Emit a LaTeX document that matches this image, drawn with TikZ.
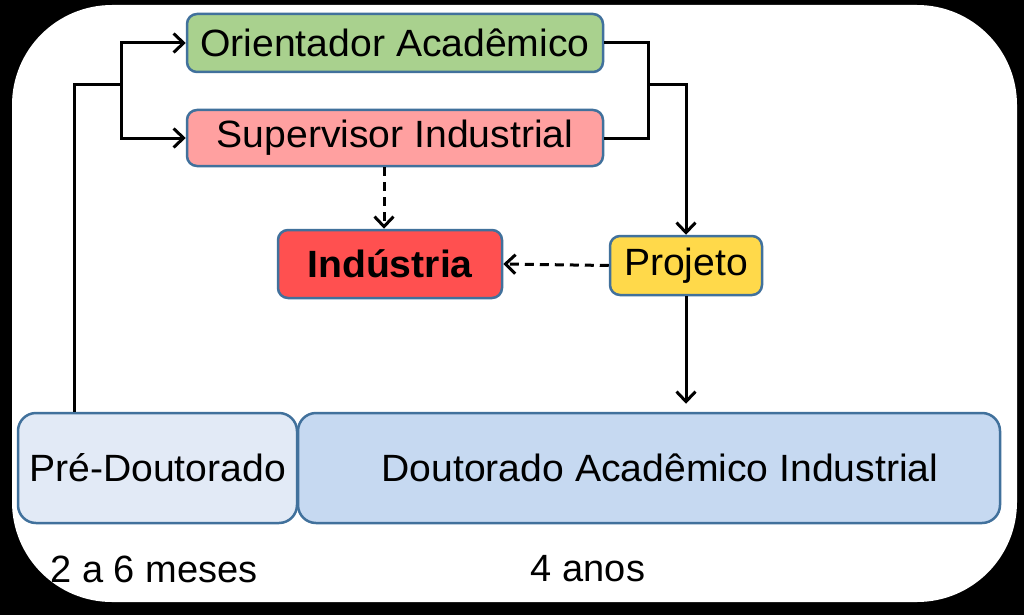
\documentclass[tikz,border=0pt]{standalone}
\usepackage{fontspec}
\setmainfont{Liberation Sans}
\newfontfamily\boxfont{Liberation Sans}[FakeStretch=1.03]
\usetikzlibrary{arrows.meta}
\definecolor{bord}{HTML}{41719C}
\definecolor{cgreen}{HTML}{A9D18E}
\definecolor{cpink}{HTML}{FFA0A0}
\definecolor{cred}{HTML}{FF5050}
\definecolor{cyellow}{HTML}{FFD94A}
\definecolor{cpre}{HTML}{E2EAF6}
\definecolor{cdout}{HTML}{C6D9F1}
\tikzset{
  box/.style={draw=bord, line width=2.5pt, rounded corners=10pt, inner sep=0pt,
    font=\boxfont\fontsize{38}{44}\selectfont, text=black},
  bigbox/.style={box, rounded corners=18pt},
  conn/.style={line width=3pt, black},
  arr/.style={conn, -{Straight Barb[length=10pt,width=19pt]}},
  dsh/.style={dash pattern=on 9pt off 6pt},
  lbl/.style={font=\fontsize{38}{44}\selectfont, text=black, inner sep=0pt}
}
\begin{document}
\begin{tikzpicture}[x=1pt,y=-1pt]
\useasboundingbox (0,0) rectangle (1024,615);
\fill[black] (0,0) rectangle (1024,615);
\fill[white, rounded corners=100pt] (12,5) rectangle (1017,602);

\node[box, fill=cgreen, minimum width=416pt, minimum height=58pt] (orient) at (395,43) {Orientador Acadêmico};
\node[box, fill=cpink, minimum width=416pt, minimum height=56pt] (super) at (395,138) {Supervisor Industrial};
\node[box, fill=cred, minimum width=224pt, minimum height=68pt, font=\boxfont\fontsize{38}{44}\selectfont\bfseries] (ind) at (390,264) {Indústria};
\node[box, fill=cyellow, minimum width=152pt, minimum height=59pt] (proj) at (686,265.5) {Projeto};
\node[bigbox, fill=cpre, minimum width=279pt, minimum height=110pt] (pre) at (157.5,468) {Pré-Doutorado};
\node[bigbox, fill=cdout, minimum width=702pt, minimum height=110pt] (dout) at (649,468) {\hspace{22pt}Doutorado Acadêmico Industrial};

\node[lbl] (l1) at (154,569) {2 a 6 meses};
\node[lbl] (l2) at (588,569) {4 anos};

\coordinate (j1) at (121,85);
\coordinate (j2) at (648,85);
\coordinate (ip) at ([xshift=-6pt]ind.north);
\coordinate (pp) at ([xshift=-83.5pt]pre.north);

\draw[conn] (pp) |- (j1);
\draw[arr] (j1) |- (orient.west);
\draw[arr] (j1) |- (super.west);
\draw[conn] (orient.east) -| (j2);
\draw[conn] (super.east) -| (j2);
\draw[arr] (j2) -| (proj.north);
\draw[arr, dsh] (super.south -| ip) -- (ip);
\draw[arr, dsh] (proj.west) -- (ind.east);
\draw[arr, shorten >=8pt] (proj.south) -- (proj.south |- dout.north);
\end{tikzpicture}
\end{document}
